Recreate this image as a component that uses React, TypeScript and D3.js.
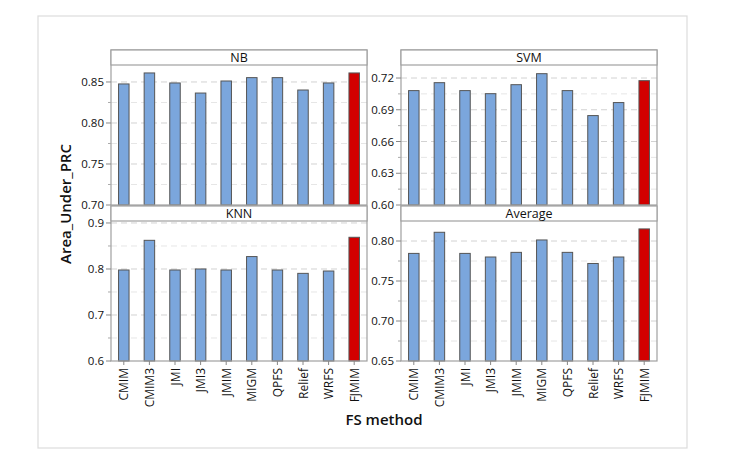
import React from "react";
import * as d3 from "d3";

const methods = ["CMIM", "CMIM3", "JMI", "JMI3", "JMIM", "MIGM", "QPFS", "Relief", "WRFS", "FJMIM"];
const nbValues = [0.8476, 0.861, 0.8488, 0.8365, 0.8512, 0.8553, 0.8553, 0.8402, 0.8488, 0.861];
const svmValues = [0.7081, 0.7156, 0.7081, 0.7052, 0.7137, 0.7241, 0.7081, 0.6845, 0.6968, 0.7175];
const knnValues = [0.7978, 0.8623, 0.7978, 0.8, 0.7978, 0.827, 0.7978, 0.7905, 0.7956, 0.8689];
const avgValues = [0.7845, 0.8109, 0.7845, 0.78, 0.7858, 0.8013, 0.7858, 0.7719, 0.78, 0.8151];

const nbTicks = [0.7, 0.75, 0.8, 0.85];
const svmTicks = [0.6, 0.63, 0.66, 0.69, 0.72];
const knnTicks = [0.6, 0.7, 0.8, 0.9];
const avgTicks = [0.65, 0.7, 0.75, 0.8];

const FONT = "'Open Sans', 'Noto Sans', sans-serif";

type PanelProps = {
  title: string;
  values: number[];
  ticks: number[];
  domain: [number, number];
  fmt: string;
  x0: number;
  y0: number;
  showX: boolean;
};

const W = 256;
const STRIP = 15;
const PH = 140;

function Panel({ title, values, ticks, domain, fmt, x0, y0, showX }: PanelProps) {
  const x = d3.scaleBand<string>().domain(methods).range([x0, x0 + W]).paddingInner(0.59).paddingOuter(0.295);
  const top = y0 + STRIP;
  const y = d3.scaleLinear().domain(domain).range([top + PH, top]);
  const step = ticks[1] - ticks[0];
  const minors = ticks.map((t) => t + step / 2).filter((t) => t < domain[1]);
  const f = d3.format(fmt);
  return (
    <g>
      {minors.map((t, i) => (
        <line key={"mg" + i} x1={x0} x2={x0 + W} y1={y(t)} y2={y(t)} stroke="#e6e6e6" strokeDasharray="6,4" />
      ))}
      {ticks.slice(1).map((t, i) => (
        <line key={"g" + i} x1={x0} x2={x0 + W} y1={y(t)} y2={y(t)} stroke="#d2d2d2" strokeDasharray="6,4" />
      ))}
      {values.map((v, i) => (
        <rect
          key={i}
          x={x(methods[i])}
          y={y(v)}
          width={x.bandwidth()}
          height={y(domain[0]) - y(v)}
          fill={i === methods.length - 1 ? "#d20000" : "#7ba6dc"}
          stroke="#555"
          strokeWidth={1}
        />
      ))}
      <rect x={x0} y={y0} width={W} height={STRIP + PH} fill="none" stroke="#a0a0a0" strokeWidth={1.2} />
      <rect x={x0} y={y0} width={W} height={STRIP} fill="white" stroke="#a0a0a0" strokeWidth={1.2} />
      <text x={x0 + W / 2} y={y0 + STRIP / 2 + 4.5} textAnchor="middle" fontSize={12.5} fontFamily={FONT} fill="#111">
        {title}
      </text>
      {ticks.map((t, i) => (
        <g key={"t" + i}>
          <line x1={x0 - 5} x2={x0} y1={y(t)} y2={y(t)} stroke="#888" />
          <text x={x0 - 7} y={y(t) + 4} textAnchor="end" fontSize={11.5} fontFamily={FONT} fill="#111">
            {f(t)}
          </text>
        </g>
      ))}
      {minors.map((t, i) => (
        <line key={"mt" + i} x1={x0 - 3} x2={x0} y1={y(t)} y2={y(t)} stroke="#aaa" />
      ))}
      {showX &&
        methods.map((m, i) => {
          const cx = (x(m) as number) + x.bandwidth() / 2;
          const by = top + PH;
          return (
            <g key={"x" + i}>
              <line x1={cx} x2={cx} y1={by} y2={by + 4} stroke="#888" />
              <text
                transform={`translate(${cx + 4.5},${by + 7}) rotate(-90)`}
                textAnchor="end"
                fontSize={12}
                fontFamily={FONT}
                fill="#111"
              >
                {m}
              </text>
            </g>
          );
        })}
    </g>
  );
}

export default function App() {
  return (
    <svg width={740} height={458} style={{ position: "absolute", left: 0, top: 0, background: "white" }}>
      <rect x={38} y={16} width={649} height={432} fill="white" stroke="#dcdcdc" strokeWidth={1.2} />
      <Panel title="NB" values={nbValues} ticks={nbTicks} domain={[0.7, 0.8707]} fmt=".2f" x0={111} y0={50} showX={false} />
      <Panel title="SVM" values={svmValues} ticks={svmTicks} domain={[0.6, 0.7323]} fmt=".2f" x0={401} y0={50} showX={false} />
      <Panel title="KNN" values={knnValues} ticks={knnTicks} domain={[0.6, 0.9043]} fmt=".1f" x0={111} y0={206} showX={true} />
      <Panel title="Average" values={avgValues} ticks={avgTicks} domain={[0.65, 0.825]} fmt=".2f" x0={401} y0={206} showX={true} />
      <text
        transform="translate(71,204) rotate(-90)"
        textAnchor="middle"
        fontSize={15}
        fontWeight={600}
        fontFamily={FONT}
        fill="#111"
      >
        Area_Under_PRC
      </text>
      <text x={384} y={425} textAnchor="middle" fontSize={15} fontWeight={600} fontFamily={FONT} fill="#111">
        FS method
      </text>
    </svg>
  );
}
